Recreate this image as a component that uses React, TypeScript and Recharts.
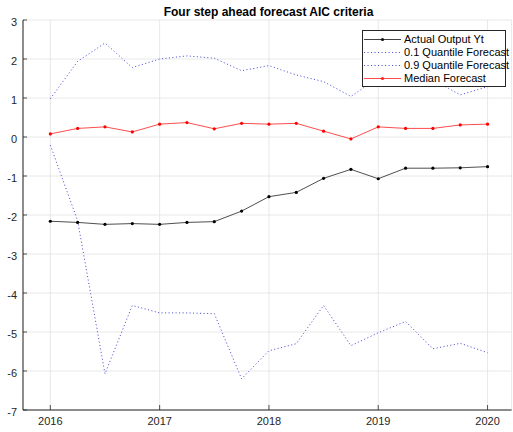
import React from "react";
import { LineChart, Line, XAxis, YAxis, CartesianGrid } from "recharts";

// Quarterly time stamps (decimal years) and the forecast series
const quarters = [
  2016, 2016.25, 2016.5, 2016.75, 2017, 2017.25, 2017.5, 2017.75, 2018,
  2018.25, 2018.5, 2018.75, 2019, 2019.25, 2019.5, 2019.75, 2020,
];
const actualOutput = [
  -2.16, -2.19, -2.24, -2.22, -2.24, -2.19, -2.17, -1.9, -1.53, -1.42, -1.06,
  -0.83, -1.07, -0.8, -0.8, -0.79, -0.76,
];
const quantile01 = [
  -0.21, -2.15, -6.07, -4.32, -4.51, -4.51, -4.53, -6.2, -5.48, -5.3, -4.32,
  -5.35, -5.02, -4.73, -5.43, -5.29, -5.53,
];
const quantile09 = [
  0.98, 1.94, 2.41, 1.78, 2.0, 2.08, 2.02, 1.7, 1.83, 1.59, 1.42, 1.04, 1.52,
  1.6, 1.47, 1.08, 1.29,
];
const medianForecast = [
  0.08, 0.22, 0.26, 0.13, 0.33, 0.37, 0.21, 0.35, 0.33, 0.35, 0.15, -0.05,
  0.26, 0.22, 0.22, 0.31, 0.33,
];

const xTicks = [2016, 2017, 2018, 2019, 2020];
const yTicks = [-7, -6, -5, -4, -3, -2, -1, 0, 1, 2, 3];
const xDomain: [number, number] = [2015.75, 2020.22];
const yDomain: [number, number] = [-7, 3];

const chartTitle = "Four step ahead forecast AIC criteria";
const seriesNames = {
  actual: "Actual Output Yt",
  q01: "0.1 Quantile Forecast",
  q09: "0.9 Quantile Forecast",
  median: "Median Forecast",
};

const data = quarters.map((t, i) => ({
  t,
  actual: actualOutput[i],
  q01: quantile01[i],
  q09: quantile09[i],
  median: medianForecast[i],
}));

const FONT = "'Liberation Sans', Arial, Helvetica, sans-serif";
const AXIS = "#262626";
const BLUE = "#5050d8";
const DOTS = "1.1 2.4";

const BottomTick = (props: any) => {
  const { x, y, payload } = props;
  return (
    <g>
      <line x1={x} x2={x} y1={y} y2={y - 5} stroke={AXIS} strokeWidth={0.8} />
      <text x={x} y={y + 14.5} textAnchor="middle" fontSize={11} fill={AXIS} fontFamily={FONT}>
        {payload.value}
      </text>
    </g>
  );
};

const TopTick = (props: any) => {
  const { x, y } = props;
  return <line x1={x} x2={x} y1={y} y2={y + 5} stroke={AXIS} strokeWidth={0.8} />;
};

const LeftTick = (props: any) => {
  const { x, y, payload } = props;
  return (
    <g>
      <line x1={x} x2={x + 4} y1={y} y2={y} stroke={AXIS} strokeWidth={0.8} />
      <text x={x - 6} y={y + 5.5} textAnchor="end" fontSize={11} fill={AXIS} fontFamily={FONT}>
        {payload.value}
      </text>
    </g>
  );
};

const RightTick = (props: any) => {
  const { x, y } = props;
  return <line x1={x} x2={x - 4} y1={y} y2={y} stroke={AXIS} strokeWidth={0.8} />;
};

const legendItems = [
  { name: seriesNames.actual, color: "#111111", dotted: false, marker: true },
  { name: seriesNames.q01, color: BLUE, dotted: true, marker: false },
  { name: seriesNames.q09, color: BLUE, dotted: true, marker: false },
  { name: seriesNames.median, color: "#ff2020", dotted: false, marker: true },
];

const LegendBox = () => (
  <div
    style={{
      position: "absolute",
      left: 362,
      top: 30,
      width: 142,
      border: `1px solid ${AXIS}`,
      background: "#ffffff",
      paddingTop: 2,
      paddingBottom: 1,
      fontFamily: FONT,
      fontSize: 11,
      color: "#000",
    }}
  >
    {legendItems.map((it) => (
      <div key={it.name} style={{ display: "flex", alignItems: "center", height: 13 }}>
        <svg width={41} height={13} style={{ flex: "none" }}>
          <line
            x1={1}
            x2={38}
            y1={6.5}
            y2={6.5}
            stroke={it.color}
            strokeWidth={it.dotted ? 1 : 0.8}
            strokeDasharray={it.dotted ? DOTS : undefined}
          />
          {it.marker && <circle cx={19.5} cy={6.5} r={1.6} fill={it.color} />}
        </svg>
        <span style={{ whiteSpace: "nowrap", lineHeight: "13px" }}>{it.name}</span>
      </div>
    ))}
  </div>
);

export default function App() {
  return (
    <div style={{ position: "absolute", left: 0, top: 0, width: 513, height: 432, background: "#fff" }}>
      <LineChart
        width={513}
        height={432}
        data={data}
        margin={{ top: 20, right: 1.4, bottom: 0, left: 0 }}
      >
        <CartesianGrid stroke="#e2e2e2" strokeWidth={0.8} />
        <XAxis
          dataKey="t"
          type="number"
          domain={xDomain}
          ticks={xTicks}
          allowDataOverflow
          height={22}
          stroke={AXIS}
          tickLine={false}
          tickSize={0}
          tickMargin={0}
          tick={BottomTick}
        />
        <XAxis
          xAxisId="top"
          orientation="top"
          dataKey="t"
          type="number"
          domain={xDomain}
          ticks={xTicks}
          allowDataOverflow
          height={0}
          stroke={AXIS}
          tickLine={false}
          tickSize={0}
          tickMargin={0}
          tick={TopTick}
        />
        <YAxis
          type="number"
          domain={yDomain}
          ticks={yTicks}
          allowDataOverflow
          width={23}
          stroke={AXIS}
          tickLine={false}
          tickSize={0}
          tickMargin={0}
          tick={LeftTick}
          interval={0}
        />
        <YAxis
          yAxisId="right"
          orientation="right"
          type="number"
          domain={yDomain}
          ticks={yTicks}
          allowDataOverflow
          width={0}
          stroke={AXIS}
          tickLine={false}
          tickSize={0}
          tickMargin={0}
          tick={RightTick}
          interval={0}
        />
        <Line
          dataKey="q01"
          name={seriesNames.q01}
          stroke={BLUE}
          strokeWidth={1}
          strokeDasharray={DOTS}
          dot={false}
          isAnimationActive={false}
          type="linear"
        />
        <Line
          dataKey="q09"
          name={seriesNames.q09}
          stroke={BLUE}
          strokeWidth={1}
          strokeDasharray={DOTS}
          dot={false}
          isAnimationActive={false}
          type="linear"
        />
        <Line
          dataKey="actual"
          name={seriesNames.actual}
          stroke="#222222"
          strokeWidth={0.8}
          dot={{ r: 1.6, fill: "#000", stroke: "#000", strokeWidth: 0 }}
          isAnimationActive={false}
          type="linear"
        />
        <Line
          dataKey="median"
          name={seriesNames.median}
          stroke="#ff2020"
          strokeWidth={0.8}
          dot={{ r: 1.6, fill: "#ff0000", stroke: "#ff0000", strokeWidth: 0 }}
          isAnimationActive={false}
          type="linear"
        />
      </LineChart>
      <div
        style={{
          position: "absolute",
          left: 0,
          width: 537,
          top: 5,
          textAlign: "center",
          fontFamily: FONT,
          fontWeight: "bold",
          fontSize: 12,
          color: "#000",
          lineHeight: "14px",
        }}
      >
        {chartTitle}
      </div>
      <LegendBox />
    </div>
  );
}
